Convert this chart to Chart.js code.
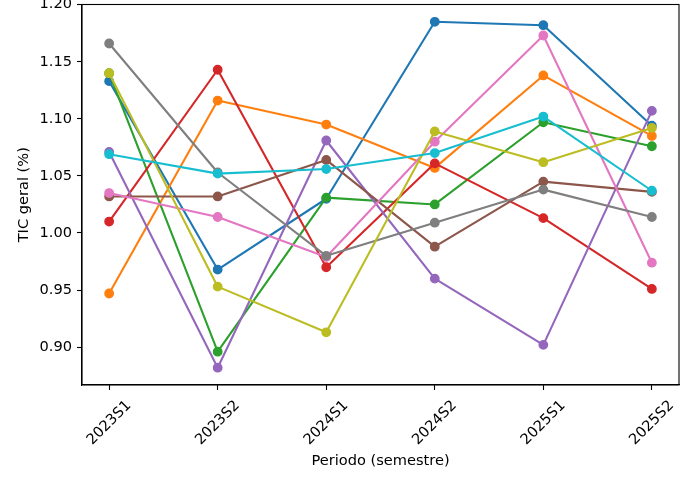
<!DOCTYPE html>
<html>
<head>
<meta charset="utf-8">
<script src="https://cdn.jsdelivr.net/npm/chart.js@4.4.1/dist/chart.umd.min.js"></script>
<style>
    html, body { margin: 0; padding: 0; background: #fff; }
    canvas { display: block; }
</style>
</head>
<body>
<canvas id="ticChart" width="696" height="485"></canvas>
<script>
"use strict";

// periods on the x axis
const periods = ['2023S1', '2023S2', '2024S1', '2024S2', '2025S1', '2025S2'];

// one array per line
const serie1 = [1.133, 0.968, 1.030, 1.185, 1.182, 1.094];
const serie2 = [0.947, 1.116, 1.095, 1.057, 1.138, 1.085];
const serie3 = [1.140, 0.896, 1.031, 1.025, 1.097, 1.076];
const serie4 = [1.010, 1.143, 0.970, 1.061, 1.013, 0.951];
const serie5 = [1.071, 0.882, 1.081, 0.960, 0.902, 1.107];
const serie6 = [1.032, 1.032, 1.064, 0.988, 1.045, 1.036];
const serie7 = [1.035, 1.014, 0.979, 1.080, 1.173, 0.974];
const serie8 = [1.166, 1.053, 0.980, 1.009, 1.038, 1.014];
const serie9 = [1.140, 0.953, 0.913, 1.089, 1.062, 1.092];
const serie10 = [1.069, 1.052, 1.056, 1.070, 1.102, 1.037];

const yTicks = [0.90, 0.95, 1.00, 1.05, 1.10, 1.15, 1.20];

const series = [serie1, serie2, serie3, serie4, serie5, serie6, serie7, serie8, serie9, serie10];
const colors = ['#1f77b4', '#ff7f0e', '#2ca02c', '#d62728', '#9467bd',
                '#8c564b', '#e377c2', '#7f7f7f', '#bcbd22', '#17becf'];

const FONT = 'DejaVu Sans';
const FONT_SIZE = 14.6;

// y range like matplotlib: data range plus 5% margin
const allValues = series.flat();
const dataMin = Math.min(...allValues);
const dataMax = Math.max(...allValues);
const margin = (dataMax - dataMin) * 0.05;

// full box around the plot area
const framePlugin = {
    id: 'frame',
    afterDatasetsDraw(chart) {
        const {ctx, chartArea} = chart;
        ctx.save();
        ctx.strokeStyle = '#000';
        ctx.lineWidth = 1.1;
        ctx.strokeRect(chartArea.left, chartArea.top,
            chartArea.right - chartArea.left, chartArea.bottom - chartArea.top);
        ctx.restore();
    }
};

// rotated x labels centred on their tick
const xLabelPlugin = {
    id: 'xLabels',
    afterDraw(chart) {
        const {ctx, chartArea} = chart;
        const x = chart.scales.x;
        ctx.save();
        ctx.font = `${FONT_SIZE}px "${FONT}"`;
        ctx.fillStyle = '#000';
        ctx.textAlign = 'center';
        ctx.textBaseline = 'middle';
        periods.forEach((p, i) => {
            ctx.save();
            ctx.translate(x.getPixelForValue(i), chartArea.bottom + 38);
            ctx.rotate(-Math.PI / 4);
            ctx.fillText(p, 0, 0);
            ctx.restore();
        });
        ctx.restore();
    }
};

const datasets = series.map((values, i) => ({
    label: `Série ${i + 1}`,
    data: values.map((v, k) => ({x: k, y: v})),
    borderColor: colors[i],
    backgroundColor: colors[i],
    pointBackgroundColor: colors[i],
    pointBorderColor: colors[i],
    borderWidth: 2.1,
    pointRadius: 4.2,
    pointBorderWidth: 1.4,
    borderJoinStyle: 'round',
    tension: 0,
    fill: false,
    order: series.length - i
}));

const axisCommon = {
    grid: {
        drawOnChartArea: false,
        drawTicks: true,
        tickLength: 5,
        tickColor: '#000',
        tickWidth: 1.1
    },
    border: {
        display: true,
        color: '#000',
        width: 1.1
    }
};

// no extra room for half labels at the ends
const noEndPadding = (scale) => {
    scale.paddingTop = 0;
    scale.paddingBottom = 0;
    scale.paddingLeft = 0;
    scale.paddingRight = 0;
};

const config = {
    type: 'line',
    data: { datasets: datasets },
    options: {
        responsive: false,
        animation: false,
        layout: {
            autoPadding: false,
            padding: { top: 4.5, right: 17, bottom: 0, left: 0 }
        },
        plugins: {
            legend: { display: false },
            tooltip: { enabled: false }
        },
        scales: {
            x: {
                ...axisCommon,
                type: 'linear',
                min: -0.25,
                max: periods.length - 1 + 0.25,
                afterBuildTicks: (scale) => {
                    scale.ticks = periods.map((p, i) => ({value: i}));
                },
                afterFit: (scale) => {
                    scale.height = 100;
                    noEndPadding(scale);
                },
                ticks: { display: false },
                title: {
                    display: true,
                    text: 'Periodo (semestre)',
                    color: '#000',
                    font: { family: FONT, size: FONT_SIZE },
                    padding: { top: 0, bottom: 15.5 }
                }
            },
            y: {
                ...axisCommon,
                type: 'linear',
                min: dataMin - margin,
                max: dataMax + margin,
                afterBuildTicks: (scale) => {
                    scale.ticks = yTicks.map(v => ({value: v}));
                },
                afterFit: (scale) => {
                    scale.width = 82;
                    noEndPadding(scale);
                },
                ticks: {
                    color: '#000',
                    padding: 5,
                    font: { family: FONT, size: FONT_SIZE },
                    callback: (v) => Number(v).toFixed(2)
                },
                title: {
                    display: true,
                    text: 'TIC geral (%)',
                    color: '#000',
                    font: { family: FONT, size: FONT_SIZE },
                    padding: { top: 15.5, bottom: 0 }
                }
            }
        }
    },
    plugins: [framePlugin, xLabelPlugin]
};

new Chart(document.getElementById('ticChart'), config);
</script>
</body>
</html>
